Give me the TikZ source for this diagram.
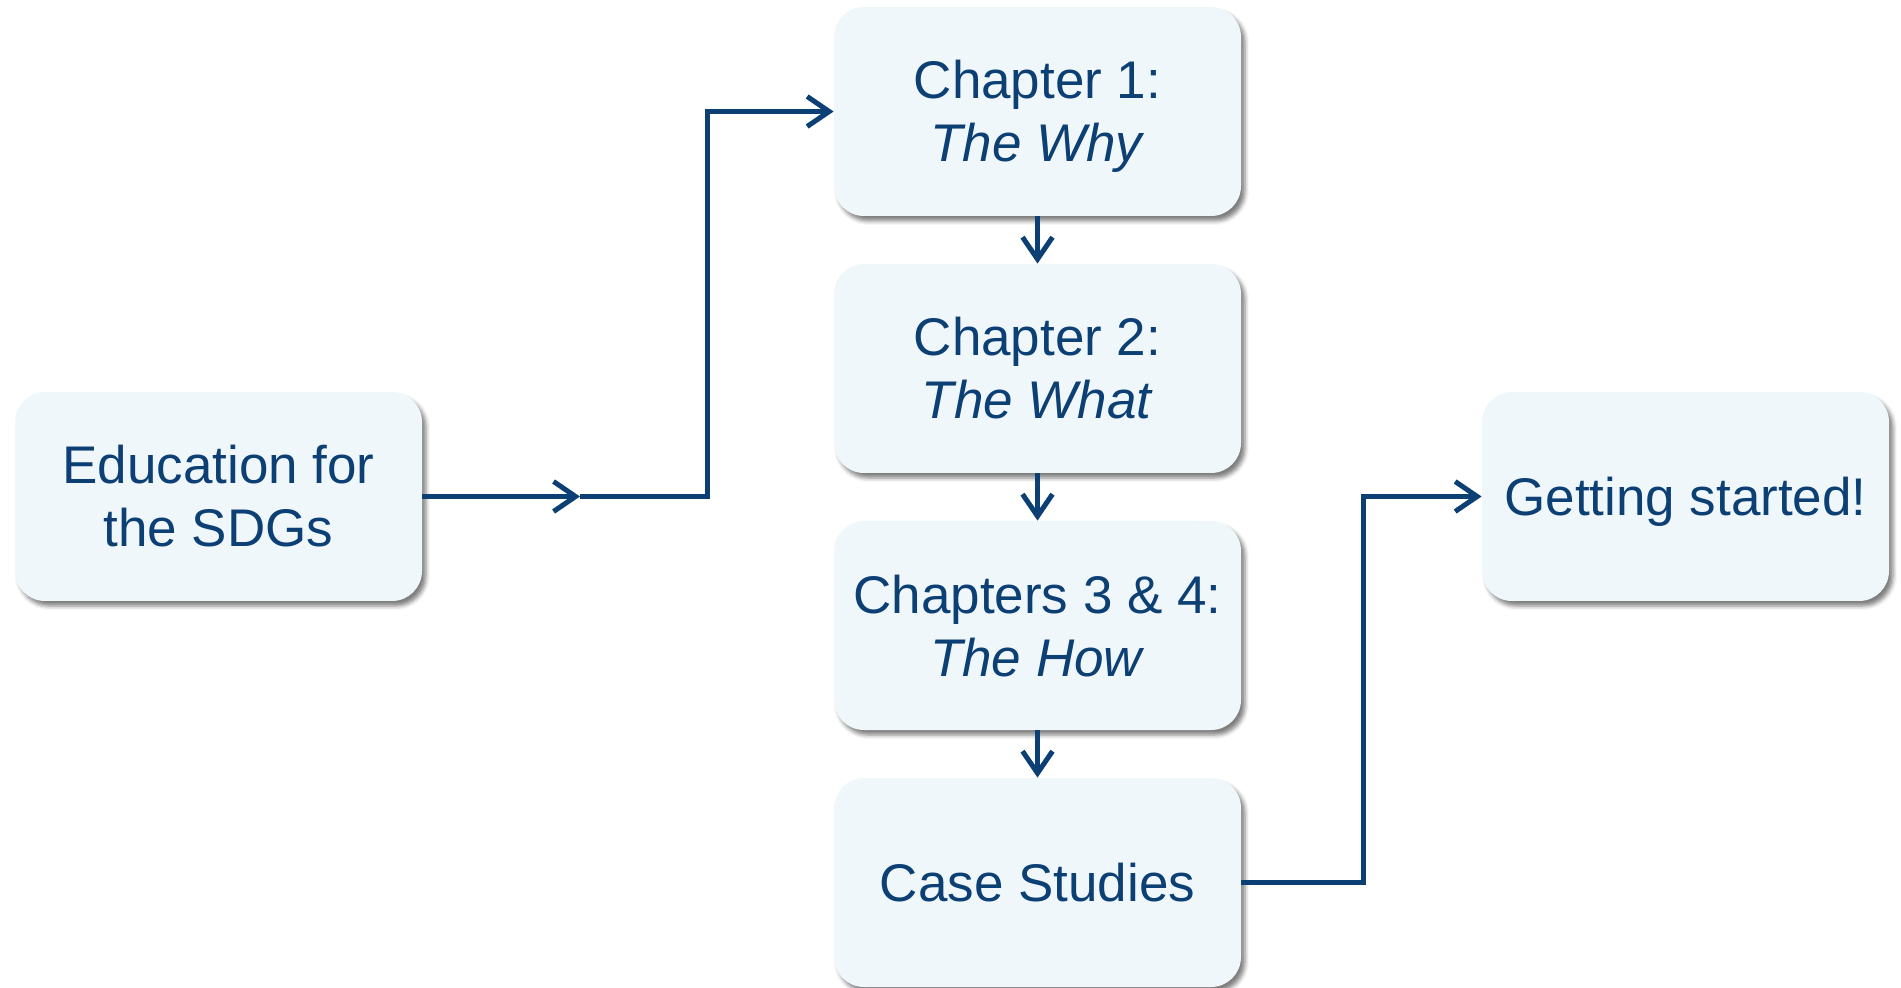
\documentclass[tikz,border=0pt]{standalone}
\usepackage{fontspec}
\setmainfont{Liberation Sans}
\usetikzlibrary{arrows.meta,shadows.blur}
\definecolor{navy}{RGB}{12,63,115}
\definecolor{boxfill}{RGB}{240,247,251}
\begin{document}
\begin{tikzpicture}[x=0.5pt,y=-0.5pt,
  card/.style={rounded corners=15pt, fill=boxfill, minimum width=203.5pt,
    minimum height=104.5pt, text=navy, align=center, inner sep=0pt,
    font=\fontsize{26.5}{31.5}\selectfont,
    text height=19pt, text depth=0pt,
    blur shadow={shadow xshift=2pt, shadow yshift=-2.5pt,
      shadow blur radius=2pt, shadow opacity=50}},
  twoline/.style={text height=50.5pt, text depth=0pt},
  link/.style={draw=navy, line width=2.5pt, line join=miter,
    -{Straight Barb[length=11pt,width=15pt]}}]
\useasboundingbox (0,0) rectangle (1901,988);
\node[card,twoline] (edu) at (218.5,496.5)  {Education for\\the SDGs};
\node[card,twoline] (ch1) at (1037.5,111.5) {Chapter 1:\\\textit{The Why}};
\node[card,twoline] (ch2) at (1037.5,368.5) {Chapter 2:\\\textit{The What}};
\node[card,twoline] (ch3) at (1037.5,625.5) {Chapters 3 \& 4:\\\textit{The How}};
\node[card] (case)  at (1037.5,882.5) {Case Studies};
\node[card] (start) at (1685.5,496.5) {Getting started!};
\coordinate (mid)   at (580,496.5);
\coordinate (bend1) at (707,496.5);
\coordinate (bend2) at (1363,882.5);
\draw[link] (edu.east) -- (mid);
\draw[link] (mid) -- (bend1) |- (ch1.west);
\draw[link] (ch1.south) -- (ch2.north);
\draw[link] (ch2.south) -- (ch3.north);
\draw[link] (ch3.south) -- (case.north);
\draw[link] (case.east) -- (bend2) |- (start.west);
\end{tikzpicture}
\end{document}
